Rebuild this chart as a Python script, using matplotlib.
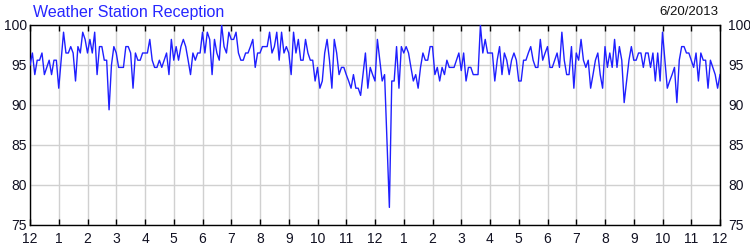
import numpy as np
import matplotlib.pyplot as plt

plt.rcParams['font.family'] = ['Liberation Sans', 'DejaVu Sans']

title_text = "Weather Station Reception"
date_text = "6/20/2013"

# one reading every 5 minutes, midnight to midnight
interval_min = 5
hour_labels = ['12', '1', '2', '3', '4', '5', '6', '7', '8', '9', '10', '11',
               '12', '1', '2', '3', '4', '5', '6', '7', '8', '9', '10', '11', '12']
y_ticks = [75, 80, 85, 90, 95, 100]

reception = [
    95.0, 96.5, 93.8, 95.6, 95.6, 96.5, 93.8, 94.7, 95.6, 93.8, 95.6, 95.6,   # 12am
    92.1, 95.6, 99.1, 96.5, 96.5, 97.3, 96.5, 93.0, 97.3, 96.5, 99.1, 98.2,   # 1
    96.5, 98.2, 96.5, 99.1, 93.8, 97.3, 97.3, 95.6, 95.6, 89.4, 95.0, 97.3,   # 2
    96.5, 94.7, 94.7, 94.7, 97.3, 97.3, 96.5, 92.1, 96.5, 95.6, 95.6, 96.5,   # 3
    96.5, 96.5, 98.2, 95.6, 94.7, 94.7, 95.6, 94.7, 95.6, 96.5, 93.8, 98.2,   # 4
    95.6, 97.3, 95.6, 97.3, 98.2, 97.3, 95.6, 93.8, 96.5, 95.6, 96.5, 96.5,   # 5
    99.1, 96.5, 99.1, 98.2, 93.8, 98.2, 96.5, 95.6, 100.0, 97.3, 96.5, 99.1,  # 6
    98.2, 98.2, 99.1, 96.5, 95.6, 95.6, 96.5, 96.5, 97.3, 98.2, 94.7, 96.5,   # 7
    96.5, 97.3, 97.3, 97.3, 99.1, 96.5, 97.3, 99.1, 95.6, 99.1, 96.5, 97.3,   # 8
    96.5, 93.8, 99.1, 96.5, 98.2, 95.6, 95.6, 98.2, 96.5, 95.6, 95.6, 93.0,   # 9
    94.7, 92.1, 93.0, 96.5, 98.2, 95.6, 92.1, 98.2, 96.5, 93.8, 94.7, 94.7,   # 10
    93.8, 93.0, 92.1, 93.8, 92.1, 92.1, 91.2, 93.8, 96.5, 92.1, 94.7, 93.8,   # 11
    93.0, 98.2, 95.6, 93.0, 93.8, 85.5, 77.2, 93.0, 93.0, 97.3, 92.1, 97.3,   # 12pm
    96.5, 97.3, 96.5, 94.7, 93.0, 93.8, 92.1, 94.7, 96.5, 95.6, 95.6, 97.3,   # 1
    97.3, 93.8, 94.7, 93.0, 94.7, 93.8, 95.6, 94.7, 94.7, 94.7, 95.6, 96.5,   # 2
    94.3, 96.5, 93.0, 94.7, 94.7, 93.8, 93.8, 93.8, 100.0, 96.5, 98.2, 96.5,  # 3
    96.5, 96.5, 93.0, 95.6, 97.3, 93.8, 96.5, 95.6, 93.8, 95.6, 96.5, 95.6,   # 4
    93.0, 93.0, 95.6, 95.6, 96.5, 97.3, 95.6, 94.7, 94.7, 98.2, 95.6, 96.5,   # 5
    97.3, 94.7, 94.7, 95.6, 96.5, 94.7, 99.1, 95.6, 93.8, 93.8, 97.3, 92.1,   # 6
    96.5, 95.6, 98.2, 95.6, 94.7, 95.6, 92.1, 93.8, 95.6, 96.5, 93.8, 92.1,   # 7
    97.3, 94.7, 96.5, 94.7, 98.2, 94.7, 97.3, 95.6, 90.3, 93.0, 95.6, 97.3,   # 8
    95.6, 95.6, 96.5, 96.5, 94.7, 96.5, 96.5, 94.7, 96.5, 93.0, 96.5, 93.0,   # 9
    99.1, 95.6, 92.1, 93.0, 93.8, 94.7, 90.3, 95.6, 97.3, 97.3, 96.5, 96.5,   # 10
    95.6, 94.7, 96.5, 93.0, 96.5, 95.6, 95.6, 92.1, 95.6, 94.7, 93.8, 92.1,   # 11
    93.8,
]

minutes = np.arange(len(reception)) * interval_min

fig = plt.figure(figsize=(7.5, 2.5), dpi=100)
ax = fig.add_axes([30 / 750, 25 / 250, 690 / 750, 200 / 250])

ax.plot(minutes, reception, color='#1f1fff', lw=1.0, zorder=3)

ax.set_xlim(0, 1440)
ax.set_ylim(75, 100)
ax.set_xticks(np.arange(0, 1441, 60))
ax.set_xticklabels(hour_labels)
ax.set_yticks(y_ticks)

ax.grid(True, color='#d0d0d0', lw=1)
ax.set_axisbelow(True)
for s in ax.spines.values():
    s.set_color('black')
    s.set_linewidth(1.0)

ax.tick_params(axis='x', direction='in', length=4, width=1, top=True,
               pad=5, labelsize=10, labelcolor='#111122')
ax.tick_params(axis='y', length=0, pad=2, labelsize=10, labelcolor='#111122')

ax2 = ax.twinx()
ax2.set_ylim(75, 100)
ax2.set_yticks(y_ticks)
ax2.tick_params(axis='y', length=0, pad=6, labelsize=10, labelcolor='#111122')
for s in ax2.spines.values():
    s.set_visible(False)

fig.text(33 / 750, 1 - 12 / 250, title_text, color='#2626ff', fontsize=11.5,
         ha='left', va='center')
fig.text(718 / 750, 1 - 12 / 250, date_text, color='#111111', fontsize=9.5,
         ha='right', va='center')

fig.savefig('out.png', dpi=100)
